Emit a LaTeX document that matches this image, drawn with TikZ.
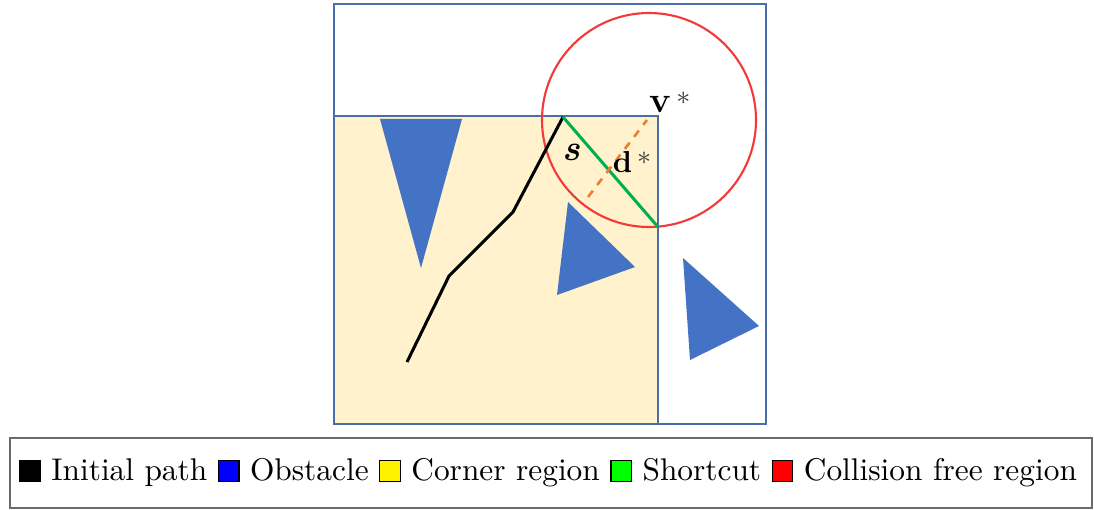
\documentclass[tikz,border=0pt]{standalone}
\usepackage{tikz}
\usepackage{xcolor}
\usetikzlibrary{positioning}
\definecolor{frameblue}{HTML}{4A6EAA}
\definecolor{obstblue}{HTML}{4472C4}
\definecolor{cornerbg}{HTML}{FFF2CC}
\definecolor{freered}{HTML}{F23A3A}
\definecolor{cutgreen}{HTML}{00B050}
\definecolor{dorange}{HTML}{ED7D31}
\definecolor{leggray}{HTML}{6A6A6A}
\definecolor{stargray}{HTML}{404040}
\tikzset{
  frame/.style={draw=frameblue,line width=0.5pt},
  obstacle/.style={fill=obstblue},
  initpath/.style={draw=black,line width=1pt,line join=round},
  shortcut/.style={draw=cutgreen,line width=1pt},
  freecirc/.style={draw=freered,line width=0.7pt},
  dline/.style={draw=dorange,line width=0.85pt,dash pattern=on 2.6pt off 2.4pt},
  lbl/.style={font=\normalsize,inner sep=0pt}
}
\newcommand{\legsq}[1]{\setlength{\fboxsep}{0pt}\setlength{\fboxrule}{0.4pt}%
  \fcolorbox{black}{#1}{\rule{0pt}{6.4pt}\hspace{6.4pt}}}
\newcommand{\sstar}{{\small\color{stargray}*}}

\begin{document}
\begin{tikzpicture}[x=0.33pt,y=-0.33pt]
    \path[use as bounding box] (0,0) rectangle (1094,510);

    % outer map and corner region
    \draw[frame] (334,4) rectangle (766,424);
    \fill[cornerbg] (334,116) rectangle (658,424);
    \draw[frame] (334,116) rectangle (658,424);

    % obstacles
    \fill[obstacle] (380,119) -- (462,119) -- (421,268) -- cycle;
    \fill[obstacle] (568,202) -- (635,267) -- (557,295) -- cycle;
    \fill[obstacle] (683,258) -- (759,326) -- (690,360) -- cycle;

    % collision free region
    \coordinate (vstar) at (649,120);
    \draw[freecirc] (vstar) circle (107);

    % initial path and shortcut
    \coordinate (p0) at (407,362);
    \coordinate (p1) at (449,276);
    \coordinate (p2) at (513,212);
    \coordinate (p3) at (563,117);
    \coordinate (p4) at (658,227);
    \draw[initpath] (p0) -- (p1) -- (p2) -- (p3);
    \draw[shortcut] (p3) -- (p4);
    \coordinate (d0) at (588,197);
    \coordinate (d1) at (647,120);
    \draw[dline] (d0) -- (d1);

    \node[lbl] (vlab) at (670,102) {{\large\textbf{v}}\,\sstar};
    \node[lbl] (slab) at (571,152) {\large\textbf{\textit{s}}};
    \node[lbl] (dlab) at (632,162) {\textbf{d}\,\sstar};

    % legend
    \draw[draw=leggray,line width=0.5pt] (10,438) rectangle (1092,508);
    \node[inner sep=0pt] (legend) at (548,473)
      {\fontsize{10.35}{12}\selectfont
       \legsq{black} Initial path \legsq{blue} Obstacle \legsq{yellow} Corner region
       \legsq{green} Shortcut \legsq{red} Collision free region};
  \end{tikzpicture}
\end{document}
